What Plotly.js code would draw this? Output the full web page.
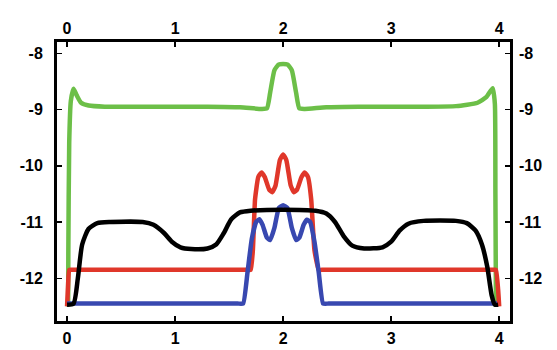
<!DOCTYPE html>
<html><head><meta charset="utf-8">
<script src="https://cdn.plot.ly/plotly-3.0.1.min.js"></script>
<style>html,body{margin:0;padding:0;background:#fff}#c{width:557px;height:350px}</style>
</head><body><div id="c"></div>
<script>
const xTicks = [0, 1, 2, 3, 4];
const yTicks = [-12, -11, -10, -9, -8];

const greenX = [0.01,0.012,0.02,0.035,0.06,0.09,0.13,0.2,0.35,0.7,1.0,1.3,1.6,1.8,1.85,1.88,1.92,1.96,2.04,2.08,2.12,2.15,2.2,2.4,2.7,3.0,3.3,3.6,3.8,3.88,3.94,3.96,3.965,3.97];
const greenY = [-12.5,-11.5,-9.6,-8.85,-8.63,-8.75,-8.88,-8.93,-8.95,-8.95,-8.95,-8.95,-8.96,-8.99,-8.98,-8.7,-8.3,-8.2,-8.2,-8.3,-8.7,-8.98,-8.99,-8.96,-8.95,-8.95,-8.95,-8.94,-8.88,-8.78,-8.62,-8.9,-10.5,-12.5];

const redX = [0.0,0.01,0.02,0.05,0.3,0.7,1.1,1.5,1.62,1.67,1.70,1.72,1.74,1.77,1.80,1.83,1.87,1.90,1.93,1.97,2.0,2.03,2.07,2.10,2.13,2.17,2.20,2.23,2.26,2.29,2.33,2.37,2.45,2.8,3.2,3.6,3.9,3.95,3.97,3.99,4.0];
const redY = [-12.5,-12.1,-11.85,-11.85,-11.85,-11.85,-11.85,-11.85,-11.85,-11.85,-11.85,-11.5,-10.6,-10.2,-10.12,-10.2,-10.42,-10.47,-10.35,-9.9,-9.8,-9.9,-10.35,-10.47,-10.42,-10.2,-10.12,-10.2,-10.6,-11.5,-11.85,-11.85,-11.85,-11.85,-11.85,-11.85,-11.85,-11.85,-11.85,-12.2,-12.5];

const blueX = [0.0,0.4,0.8,1.2,1.5,1.58,1.63,1.67,1.71,1.75,1.78,1.81,1.85,1.88,1.92,1.96,2.0,2.04,2.08,2.12,2.15,2.19,2.22,2.25,2.29,2.33,2.37,2.42,2.5,2.9,3.3,3.7,3.98];
const blueY = [-12.45,-12.45,-12.45,-12.45,-12.45,-12.45,-12.45,-11.9,-11.3,-11.0,-10.95,-11.05,-11.28,-11.32,-11.1,-10.75,-10.7,-10.75,-11.1,-11.32,-11.28,-11.05,-10.96,-11.0,-11.35,-11.9,-12.45,-12.45,-12.45,-12.45,-12.45,-12.45,-12.45];

const blackX = [0.0,0.06,0.1,0.14,0.2,0.28,0.4,0.7,0.8,0.9,0.97,1.05,1.15,1.3,1.38,1.45,1.52,1.6,1.7,2.0,2.3,2.4,2.48,2.56,2.64,2.75,2.92,3.0,3.08,3.16,3.3,3.6,3.7,3.78,3.84,3.89,3.93,3.96,3.99];
const blackY = [-12.47,-12.45,-12.0,-11.4,-11.12,-11.02,-11.0,-11.0,-11.05,-11.2,-11.35,-11.45,-11.48,-11.47,-11.4,-11.2,-10.95,-10.83,-10.8,-10.78,-10.8,-10.85,-11.0,-11.25,-11.42,-11.47,-11.45,-11.35,-11.15,-11.03,-10.98,-10.98,-11.02,-11.15,-11.4,-11.8,-12.3,-12.47,-12.47];

const W = 4.5;
const traces = [
  {x: greenX, y: greenY, mode: 'lines', line: {color: '#6cbf48', width: W, shape: 'spline', smoothing: 0.5}},
  {x: redX, y: redY, mode: 'lines', line: {color: '#e0372a', width: W, shape: 'spline', smoothing: 0.4}},
  {x: blueX, y: blueY, mode: 'lines', line: {color: '#3848b0', width: W, shape: 'spline', smoothing: 0.4}},
  {x: blackX, y: blackY, mode: 'lines', line: {color: '#000000', width: W, shape: 'spline', smoothing: 0.6}},
  {x: [0], y: [-10], xaxis: 'x2', yaxis: 'y2', mode: 'markers', marker: {opacity: 0}, hoverinfo: 'skip'}
];

const tf = {family: 'Liberation Sans, Arial, sans-serif', size: 16, color: '#000', weight: 'bold'};
const layout = {
  width: 557, height: 350,
  margin: {l: 57, r: 47, t: 42, b: 29, pad: 0},
  paper_bgcolor: '#fff', plot_bgcolor: '#fff',
  showlegend: false,
  xaxis: {range: [-0.093, 4.10], tickvals: xTicks, ticktext: xTicks.map(String), ticks: 'inside', ticklen: 5, tickwidth: 1.5, tickcolor: '#000',
          showline: true, linewidth: 3, linecolor: '#000', mirror: 'ticks', showgrid: false, zeroline: false, tickfont: tf, ticklabelstandoff: 1},
  yaxis: {range: [-12.76, -7.80], tickvals: yTicks, ticktext: yTicks.map(String), ticks: 'inside', ticklen: 5, tickwidth: 1.5, tickcolor: '#000',
          showline: true, linewidth: 3, linecolor: '#000', mirror: 'ticks', showgrid: false, zeroline: false, tickfont: tf, ticklabelstandoff: 8},
  xaxis2: {overlaying: 'x', matches: 'x', side: 'top', tickvals: xTicks, ticktext: xTicks.map(String), ticks: '', showline: false, showgrid: false, zeroline: false, tickfont: tf, ticklabelstandoff: 4},
  yaxis2: {overlaying: 'y', matches: 'y', side: 'right', tickvals: yTicks, ticktext: yTicks.map(String), ticks: '', showline: false, showgrid: false, zeroline: false, tickfont: tf, ticklabelstandoff: 8}
};
Plotly.newPlot('c', traces, layout, {displayModeBar: false, staticPlot: true});
</script></body></html>
